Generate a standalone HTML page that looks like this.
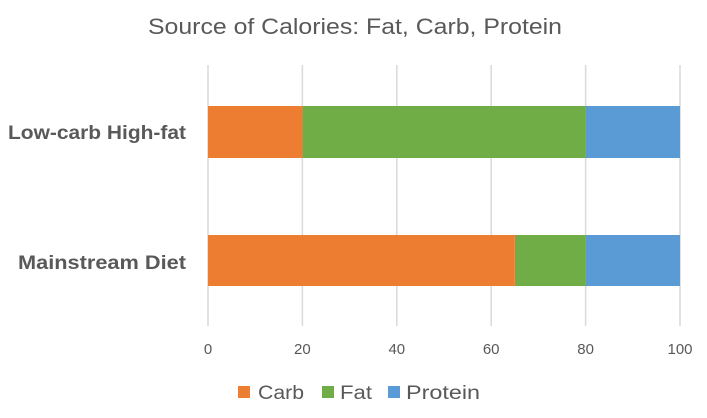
<!DOCTYPE html>
<html><head><meta charset="utf-8"><style>
body{margin:0;background:#fff;}
svg text{font-family:"Liberation Sans",sans-serif;}
</style></head><body>
<svg width="707" height="413" xmlns="http://www.w3.org/2000/svg">
<rect width="707" height="413" fill="#fff"/>
<text x="148" y="34" font-size="22" fill="#595959" textLength="414" lengthAdjust="spacingAndGlyphs">Source of Calories: Fat, Carb, Protein</text>
<g stroke="#d9d9d9" stroke-width="1.5">
<line x1="208" y1="65" x2="208" y2="326"/>
<line x1="302.4" y1="65" x2="302.4" y2="326"/>
<line x1="396.8" y1="65" x2="396.8" y2="326"/>
<line x1="491.2" y1="65" x2="491.2" y2="326"/>
<line x1="585.6" y1="65" x2="585.6" y2="326"/>
<line x1="680" y1="65" x2="680" y2="326"/>
</g>
<rect x="208" y="106" width="94.4" height="52" fill="#ed7d31"/>
<rect x="302.4" y="106" width="283.2" height="52" fill="#70ad47"/>
<rect x="585.6" y="106" width="94.4" height="52" fill="#5b9bd5"/>
<rect x="208" y="235" width="306.8" height="51" fill="#ed7d31"/>
<rect x="514.8" y="235" width="70.8" height="51" fill="#70ad47"/>
<rect x="585.6" y="235" width="94.4" height="51" fill="#5b9bd5"/>
<g font-size="19" font-weight="bold" fill="#595959">
<text x="8" y="139" textLength="178" lengthAdjust="spacingAndGlyphs">Low-carb High-fat</text>
<text x="18" y="269" textLength="168" lengthAdjust="spacingAndGlyphs">Mainstream Diet</text>
</g>
<g font-size="15" fill="#595959" text-anchor="middle">
<text x="208" y="354">0</text>
<text x="302.4" y="354">20</text>
<text x="396.8" y="354">40</text>
<text x="491.2" y="354">60</text>
<text x="585.6" y="354">80</text>
<text x="680" y="354">100</text>
</g>
<g font-size="19" fill="#595959">
<rect x="238" y="386" width="12" height="12" fill="#ed7d31"/>
<text x="258" y="399" textLength="46" lengthAdjust="spacingAndGlyphs">Carb</text>
<rect x="322" y="386" width="12" height="12" fill="#70ad47"/>
<text x="340" y="399" textLength="32" lengthAdjust="spacingAndGlyphs">Fat</text>
<rect x="388" y="386" width="12" height="12" fill="#5b9bd5"/>
<text x="406" y="399" textLength="74" lengthAdjust="spacingAndGlyphs">Protein</text>
</g>
</svg>
</body></html>
